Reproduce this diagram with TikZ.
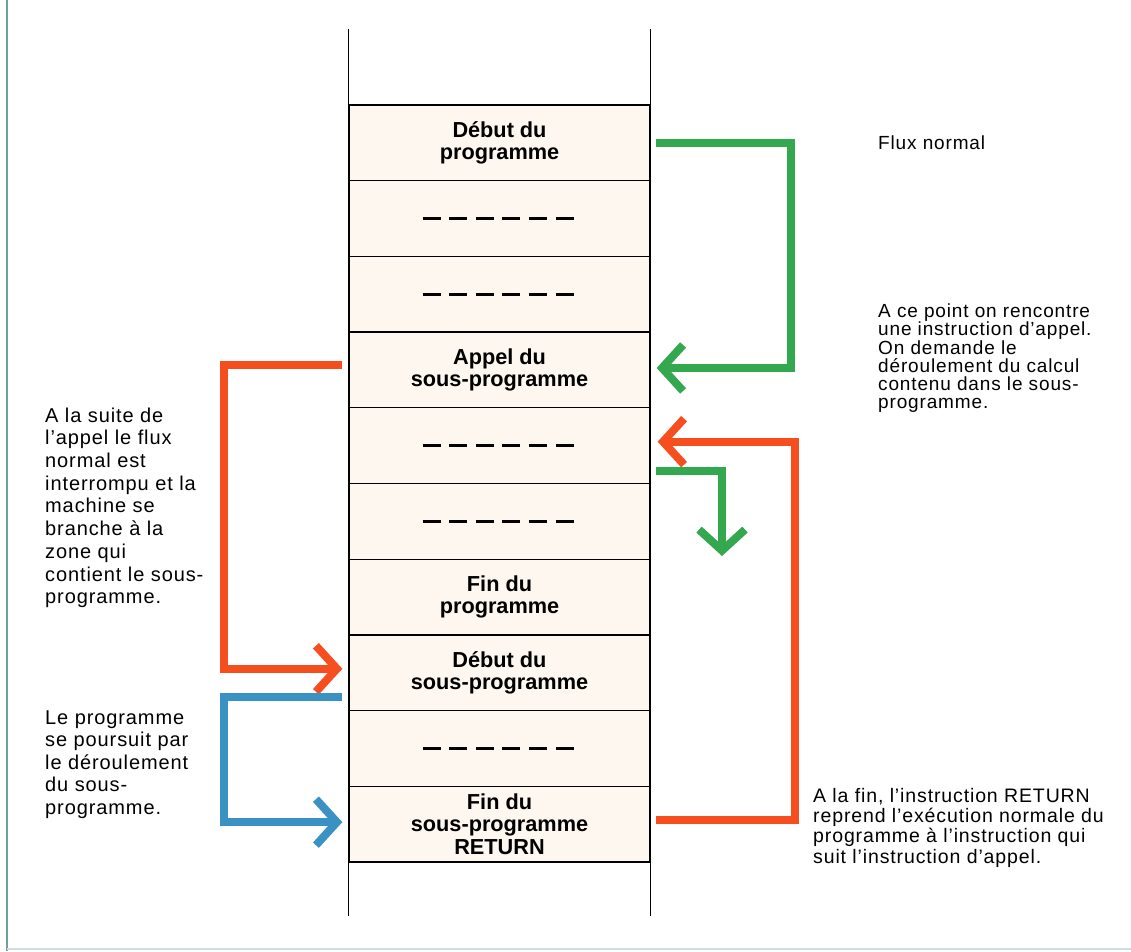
\documentclass[tikz,border=0pt]{standalone}
\usepackage{fontspec}
\setmainfont{Liberation Sans}
\newfontfamily\notefont[LetterSpace=4.5]{Liberation Sans}
\usetikzlibrary{arrows.meta}

\definecolor{flowgreen}{RGB}{52,168,78}
\definecolor{flowred}{RGB}{246,78,30}
\definecolor{flowblue}{RGB}{58,146,196}
\definecolor{edgeteal}{RGB}{110,160,160}
\definecolor{papertint}{RGB}{253,247,240}

\begin{document}
\begin{tikzpicture}[x=1pt,y=-1pt,
  cell/.style={draw=black, line width=1.3pt, minimum width=301pt,
    minimum height=75.7pt, inner sep=0pt, align=center,
    font=\fontsize{21.7pt}{22.5pt}\selectfont\bfseries},
  note/.style={anchor=north west, inner sep=0pt, align=left},
  flow/.style={line width=8pt, line join=miter, line cap=butt,
    -{Straight Barb[length=21pt,width=46pt,line cap=butt,line join=miter]}},
  gaps/.style={line width=3.5pt, dash pattern=on 18pt off 8.6pt}
]
\useasboundingbox (0,0) rectangle (1131,951);

% page edge
\draw[edgeteal, line width=2pt] (7,0) -- (7,951);
\draw[edgeteal!35, line width=1.5pt] (7,949) -- (1131,949);

% memory column
\fill[papertint] (349,105) rectangle (650,862);
\node[cell] (c1)  at (499.5,142.85) {Début du\\programme};
\node[cell] (c2)  at (499.5,218.55) {};
\node[cell] (c3)  at (499.5,294.25) {};
\node[cell] (c4)  at (499.5,369.95) {Appel du\\sous-programme};
\node[cell] (c5)  at (499.5,445.65) {};
\node[cell] (c6)  at (499.5,521.35) {};
\node[cell] (c7)  at (499.5,597.05) {Fin du\\programme};
\node[cell] (c8)  at (499.5,672.75) {Début du\\sous-programme};
\node[cell] (c9)  at (499.5,748.45) {};
\node[cell] (c10) at (499.5,824.15) {Fin du\\sous-programme\\RETURN};

\draw[line width=1.3pt] (c1.north west) -- ++(0,-75) (c1.north east) -- ++(0,-75);
\draw[line width=1.3pt] (c10.south west) -- ++(0,53) (c10.south east) -- ++(0,53);

% elided instructions
\foreach \c in {c2,c3,c5,c6,c9}
  \draw[gaps] ([xshift=-77pt]\c.center) -- ([xshift=74pt]\c.center);

% normal flow down to the call
\draw[flow, flowgreen] ([xshift=5pt]c1.east) -- ++(135,0) |- ([xshift=6pt,yshift=2pt]c4.east);
% jump to the subroutine
\draw[flow, flowred] ([xshift=-6pt,yshift=5pt]c4.west) -- ++(-118,0) |- ([xshift=-6pt,yshift=4pt]c8.west);
% subroutine body
\draw[flow, flowblue] ([xshift=-6pt,yshift=-24pt]c8.west) -- ++(-118,0) |- ([xshift=-6pt,yshift=2pt]c10.west);
% return after the call
\draw[flow, flowred] ([xshift=5pt,yshift=4pt]c10.east) -- ++(139,0) |- ([xshift=7pt,yshift=4pt]c5.east);
% normal flow resumes
\coordinate (resume) at (722,556);
\draw[flow, flowgreen] ([xshift=5pt,yshift=-25pt]c5.east) -| (resume);

% notes
\node[anchor=base west, inner sep=0pt, font=\notefont\fontsize{19pt}{18.3pt}\selectfont] (flux) at (878,149) {Flux normal};
\node[note, font=\notefont\fontsize{19pt}{18.3pt}\selectfont] (callnote) at (878,303.5)
  {A ce point on rencontre\\une instruction d’appel.\\On demande le\\déroulement du calcul\\contenu dans le sous-\\programme.};
\node[note, font=\notefont\fontsize{20pt}{22.7pt}\selectfont] (jumpnote) at (45,407.4)
  {A la suite de\\l’appel le flux\\normal est\\interrompu et la\\machine se\\branche à la\\zone qui\\contient le sous-\\programme.};
\node[note, font=\notefont\fontsize{20pt}{22.5pt}\selectfont] (bodynote) at (45,710.4)
  {Le programme\\se poursuit par\\le déroulement\\du sous-\\programme.};
\node[note, font=\notefont\fontsize{19.5pt}{20.3pt}\selectfont] (returnnote) at (813,788)
  {A la fin, l’instruction RETURN\\reprend l’exécution normale du\\programme à l’instruction qui\\suit l’instruction d’appel.};
\end{tikzpicture}
\end{document}
